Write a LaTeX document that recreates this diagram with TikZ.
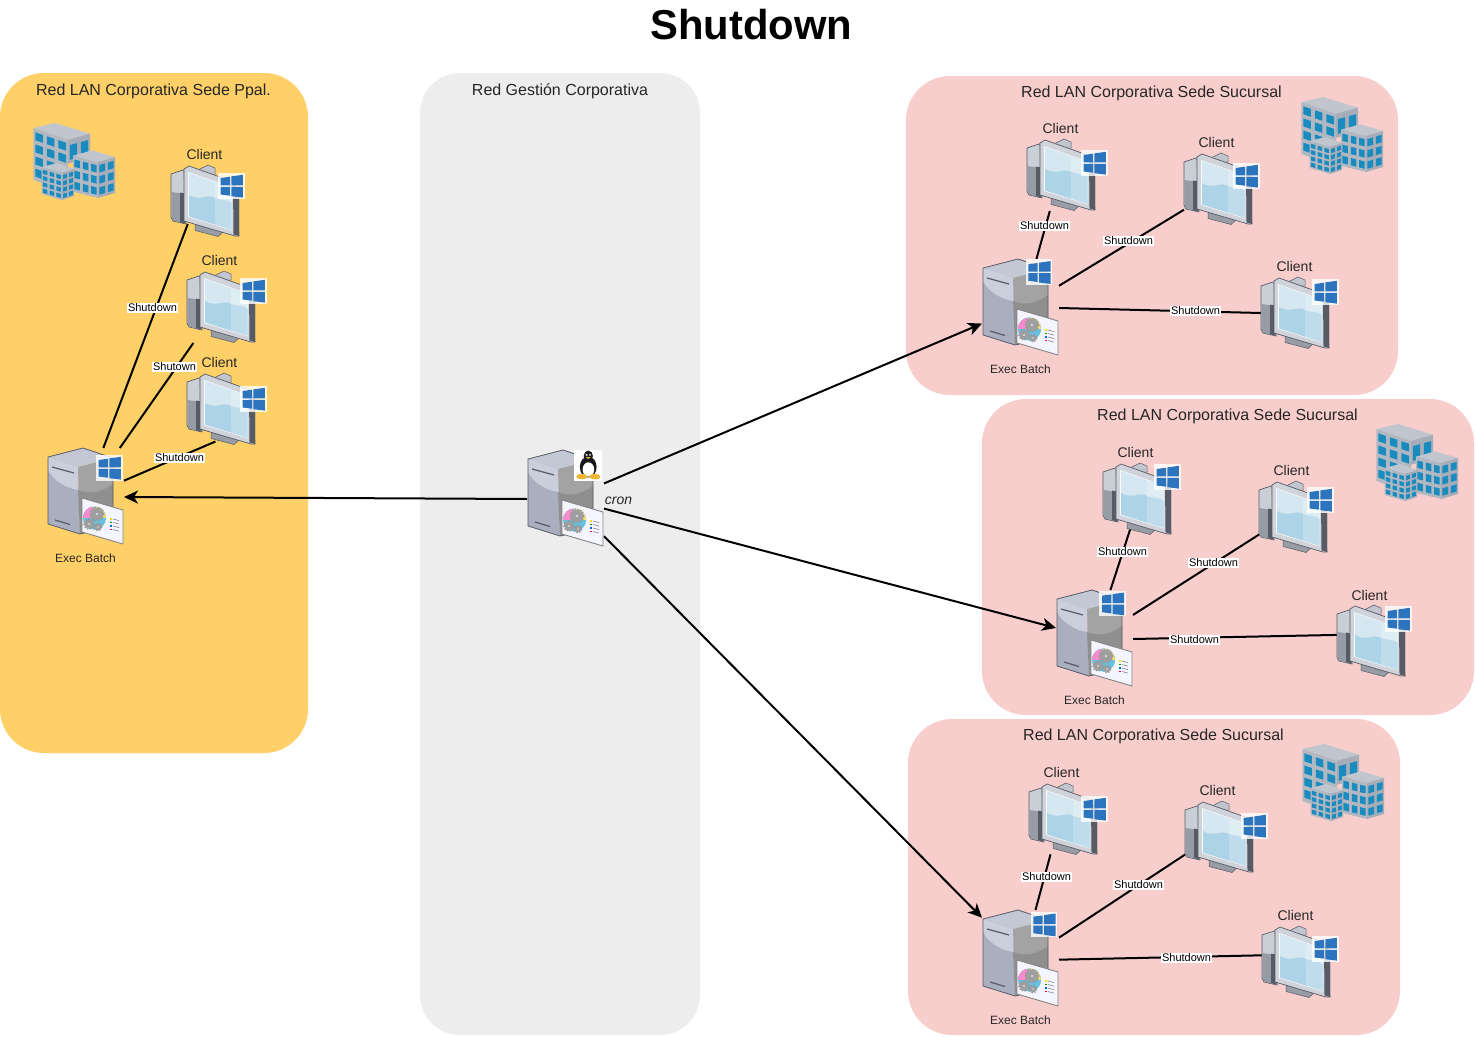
\documentclass[tikz,border=0pt]{standalone}
\usepackage{fontspec}
\setmainfont{Liberation Sans}
\usetikzlibrary{arrows.meta}
\definecolor{orangeg}{HTML}{FFD068}
\definecolor{greyg}{HTML}{EDEDED}
\definecolor{pinkg}{HTML}{F8CECC}
\definecolor{winblue}{HTML}{2D74BE}
\definecolor{wallA}{HTML}{B2B8C2}
\definecolor{wallB}{HTML}{A6ADB8}
\definecolor{roofc}{HTML}{C1C5CE}
\definecolor{bwin}{HTML}{1A8BBE}
\definecolor{edgec}{HTML}{565B66}
\definecolor{scrA}{HTML}{CFE6F0}
\definecolor{scrB}{HTML}{A5CFE6}
\definecolor{srvfront}{HTML}{A9AFBF}
\definecolor{srvlobe}{HTML}{CBCFDB}
\definecolor{srvtop}{HTML}{C4C8D5}
\definecolor{tuxyellow}{HTML}{F2B632}
\tikzset{
  grouptitle/.style={font=\fontsize{16}{19}\selectfont,text=black!85,inner sep=0,text height=.75em,text depth=.2em,yshift=-3.5pt},
  clientlabel/.style={font=\fontsize{14}{17}\selectfont,text=black!85,inner sep=0,text height=.75em,text depth=.2em,yshift=-3pt},
  execlabel/.style={font=\fontsize{12}{14}\selectfont,text=black!85,inner sep=0,text height=.75em,text depth=.2em,yshift=-2pt},
  linklabel/.style={font=\fontsize{11}{13}\selectfont,fill=white,inner sep=1pt,text height=.72em,text depth=.1em,yshift=-1pt},
  link/.style={draw=black,line width=2pt},
  flow/.style={link,-{Stealth[length=14pt,width=13pt,inset=4pt]}},
  srv/.style={inner sep=0,outer sep=0,minimum width=77pt,minimum height=98pt},
  cli/.style={inner sep=0,outer sep=0,minimum width=69pt,minimum height=#1}
}
% windows logo
\newcommand\winlogo[2]{\begin{scope}[shift={(#1,#2)}]
 \fill[white,opacity=.8] (0,0) rectangle (26.5,25.5);
 \fill[winblue] (2.7,5)--(12,3.7)--(12,12.4)--(2.7,12.4)--cycle
   (13.3,3.4)--(24.8,1.8)--(24.8,12.4)--(13.3,12.4)--cycle
   (2.7,13.8)--(12,13.8)--(12,22.7)--(2.7,21.5)--cycle
   (13.3,13.8)--(24.8,13.8)--(24.8,24.6)--(13.3,23.2)--cycle;
\end{scope}}
% client computer
\newcommand\clienticon[4]{\begin{scope}[shift={(#1,#2)}]
 % neck behind monitor
 \filldraw[fill=roofc,draw=edgec,line width=.5pt] (27,5)--(37,0)--(44,3)--(44,9)--(27,9)--cycle;
 % tower
 \filldraw[fill=roofc!85!white,draw=edgec,line width=.7pt] (0,9)--(13,4.7)--(15,59)--(2,56)--(0,52)--cycle;
 \fill[wallB!90!black] (.4,27)--(14,29)--(14.6,58.5)--(2.2,55.6)--(.4,51.8)--cycle;
 \fill[edgec] (9,27.5)--(14,28.5)--(14.6,58.5)--(9,57.2)--cycle;
 % stand
 \filldraw[fill=wallA!85!black,draw=edgec,line width=.5pt] (24,59)--(53,66)--(47,71.5)--(24,65.5)--cycle;
 % monitor side and frame
 \fill[edgec] (60,20)--(68,24)--(68,71)--(63,70.5)--cycle;
 \filldraw[fill=roofc!75!white,draw=edgec,line width=.7pt,line join=round] (13,4)--(18,1)--(63,17)--(68,71)--(64,71)--(13,56)--cycle;
 \fill[edgec] (62,19)--(68,24)--(68,71)--(62.5,69.5)--cycle;
 % screen
 \fill[white,opacity=.9] (17,7)--(61,22.5)--(61,65.5)--(17,52)--cycle;
 \fill[scrA,opacity=.85] (18,8)--(60.5,23)--(60.5,64.8)--(18,51.5)--cycle;
 \fill[scrB,opacity=.82] (18,30) .. controls (30,37) and (36,28) .. (44,33) .. controls (50,36) and (55,33) .. (60.5,38)--(60.5,64.8)--(18,51.5)--cycle;
 \fill[white,opacity=.22] (44,18)--(60.5,23)--(60.5,64.8)--(44,60)--cycle;
 \winlogo{#3}{#4}
\end{scope}}
% server tower with card
\newcommand\servertower{
 \fill[srvtop] (1,9)--(36,0)--(66,10)--(31,19)--cycle;
 \fill[srvfront] (1,9)--(31,19)--(33,86)--(1,76)--cycle;
 \fill[srvlobe] (1,9)--(31,19)--(31,42) .. controls (18,40) and (6,32) .. (1,22)--cycle;
 \fill[black!36] (31,19)--(66,10)--(66,78)--(33,86)--cycle;
 \fill[black!44] (31,42) .. controls (45,48) and (58,42) .. (66,36)--(66,78)--(33,86)--cycle;
 \draw[edgec,line width=.8pt,line join=round] (1,9)--(36,0)--(66,10)--(66,78)--(33,86)--(1,76)--cycle;
 \draw[edgec,line width=1.2pt] (5,19)--(27,25) (8,72)--(23,76.5);
 % card
 \filldraw[fill=white!96!blue,draw=black!48,line width=.9pt,line join=round] (35,50)--(76,62)--(76,96)--(35,84)--cycle;
 \begin{scope}
  \clip (47.5,70) circle (11.5);
  \fill[blue!25!cyan!80!black] (36,58) rectangle (60,83);
  \fill[magenta!75!white] (36,58) rectangle (46,70);
  \fill[yellow!60!orange] (47,58) rectangle (60,70);
 \end{scope}
 \fill[white,opacity=.4] (47.5,70) circle (11.5);
 \foreach \gx/\gy/\gr in {50/66/6.5,42/76/5,51/79/3.6}{
   \draw[black!42,line width=1.6pt,dash pattern=on 1.5pt off 1.3pt] (\gx,\gy) circle (\gr);
   \fill[black!38] (\gx,\gy) circle (\gr-.4);
   \fill[white!85!black] (\gx,\gy) circle (\gr*.22);
 }
 \foreach \ly/\lc in {70/yellow!80!orange,73.5/green!60!black,77/blue!60!cyan,80.5/magenta}{
   \fill[\lc] (63,\ly) rectangle (65,\ly+1.8);
   \draw[black!55,line width=.5pt] (66,\ly+1)--(72,\ly+2.6);
 }
}
\newcommand\winserver[4]{\begin{scope}[shift={(#1,#2)}]\servertower\winlogo{#3}{#4}\end{scope}}
\newcommand\tuxserver[2]{\begin{scope}[shift={(#1,#2)}]\servertower
 \begin{scope}[shift={(47,0)}]
  \fill[white] (0,0) rectangle (28,31);
  \fill[black!90] (14.3,6) ellipse (4.6 and 5.4);
  \fill[black!90] (14.2,17) ellipse (8.4 and 10.5);
  \fill[white] (14.4,19.5) ellipse (5.8 and 7.2);
  \fill[white] (12.6,5) circle (1.2) (16,5) circle (1.2);
  \fill[black] (12.8,5.2) circle (.5) (15.8,5.2) circle (.5);
  \fill[tuxyellow] (11.8,7)--(16.8,7)--(14.3,9)--cycle;
  \fill[tuxyellow] (7.8,26.6) ellipse (5.6 and 2.8);
  \fill[tuxyellow] (20.8,26.6) ellipse (5.6 and 2.8);
 \end{scope}
\end{scope}}
% building face
\newcommand\bface[8]{% x0 y0 x1 y1 h nx ny wall
 \fill[#8] (#1,#2)--(#3,#4)--(#3,#4+#5)--(#1,#2+#5)--cycle;
 \foreach \ii in {1,...,#6}\foreach \jj in {1,...,#7}{
  \pgfmathsetmacro\ua{(\ii-1+.17)/#6}\pgfmathsetmacro\ub{(\ii-.17)/#6}
  \pgfmathsetmacro\va{(\jj-1+.22)/#7*#5*.93+1}\pgfmathsetmacro\vb{(\jj-.12)/#7*#5*.93+1}
  \fill[bwin] ({#1+(#3-#1)*\ua},{#2+(#4-#2)*\ua+\va})--({#1+(#3-#1)*\ub},{#2+(#4-#2)*\ub+\va})--({#1+(#3-#1)*\ub},{#2+(#4-#2)*\ub+\vb})--({#1+(#3-#1)*\ua},{#2+(#4-#2)*\ua+\vb})--cycle;
 }}
\newcommand\buildings[2]{\begin{scope}[shift={(#1,#2)}]
 \fill[roofc] (1.3,5)--(23,0)--(58,10.7)--(36,16.7)--cycle;
 \bface{1.3}{5}{36}{16.7}{52}{3}{4}{wallA}
 \bface{36}{16.7}{58}{10.7}{24}{2}{1}{wallB}
 \fill[roofc] (41,32.7)--(60,27.3)--(83,34)--(66,39)--cycle;
 \bface{41}{32.7}{66}{39}{36}{3}{3}{wallA}
 \bface{66}{39}{83}{34}{36}{2}{3}{wallB}
 \fill[roofc] (9.7,44)--(25,40)--(42,46)--(30,50)--cycle;
 \bface{9.7}{44}{30}{50}{27}{3}{4}{wallA}
 \bface{30}{50}{42}{46}{27}{2}{4}{wallB}
\end{scope}}
\begin{document}
\begin{tikzpicture}[x=1pt,y=-1pt]
\useasboundingbox (0,0) rectangle (1475,1036);
\fill[white] (0,0) rectangle (1475,1036);
% regions
\fill[orangeg,rounded corners=44pt] (0,73) rectangle (308,753);
\fill[greyg,rounded corners=40pt] (420,73) rectangle (700,1035);
\fill[pinkg,rounded corners=44pt] (906,76) rectangle (1398,395);
\fill[pinkg,rounded corners=44pt] (982,399) rectangle (1474,715);
\fill[pinkg,rounded corners=44pt] (908,719) rectangle (1400,1035);
% titles
\node[inner sep=0,font=\fontsize{41.8}{48}\selectfont\bfseries] (title) at (751.5,25) {Shutdown};
\node[grouptitle] (t1) at (153.5,89) {Red LAN Corporativa Sede Ppal.};
\node[grouptitle] (t2) at (560,89) {Red Gestión Corporativa};
\node[grouptitle] (t3) at (1151.5,91) {Red LAN Corporativa Sede Sucursal};
\node[grouptitle] (t4) at (1227.5,414) {Red LAN Corporativa Sede Sucursal};
\node[grouptitle] (t5) at (1153.5,734) {Red LAN Corporativa Sede Sucursal};
% servers (connection boxes)
\node[srv] (lin) at (565.5,499) {};
\node[srv] (sp) at (85.5,497) {};
\node[srv] (s1) at (1020.5,308) {};
\node[srv] (s2) at (1094.5,639) {};
\node[srv] (s3) at (1020.5,959) {};
% clients (connection boxes)
\node[cli=59pt] (p1) at (205.5,194.5) {};
\node[cli=72pt] (p2) at (221.5,307) {};
\node[cli=68.5pt] (p3) at (221.5,407.25) {};
\node[cli=72pt] (a1) at (1061.5,175) {};
\node[cli=72pt] (a2) at (1218.5,189) {};
\node[cli=72pt] (a3) at (1295.5,313) {};
\node[cli=65pt] (b1) at (1137.5,495.5) {};
\node[cli=72pt] (b2) at (1293.5,517) {};
\node[cli=72pt] (b3) at (1371.5,641) {};
\node[cli=71.3pt] (c1) at (1063.5,818.65) {};
\node[cli=72pt] (c2) at (1219.5,837) {};
\node[cli=72pt] (c3) at (1296.5,962) {};
% connectors
\draw[flow] (lin.west) -- (sp.east);
\draw[flow] (lin.22.6) -- (s1.202.6);
\draw[flow] (lin.-14.6) -- (s2.164);
\draw[flow] (lin.-44.6) -- (s3.133.2);
\draw[link] (sp.70.3) -- (p1.239.3);
\draw[link] (sp.55.6) -- (p2.232.6);
\draw[link] (sp.23.8) -- (p3.260.9);
\draw[link] (s1.72.4) -- (a1.252.3);
\draw[link] (s1.30.9) -- (a2.211.3);
\draw[link] (s1.east) -- (a3.west);
\draw[link] (s2.72.4) -- (b1.258.7);
\draw[link] (s2.32.5) -- (b2.207.6);
\draw[link] (s2.east) -- (b3.170.1);
\draw[link] (s3.73.5) -- (c1.250.2);
\draw[link] (s3.29.7) -- (c2.207.6);
\draw[link] (s3.-1.5) -- (c3.169.7);
% connector labels
\node[linklabel] (lp1) at (152.5,307) {Shutdown};
\node[linklabel] (lp2) at (174.5,366) {Shutown};
\node[linklabel] (lp3) at (179.5,457) {Shutdown};
\node[linklabel] (la1) at (1044.5,225) {Shutdown};
\node[linklabel] (la2) at (1128.5,240) {Shutdown};
\node[linklabel] (la3) at (1195.5,310) {Shutdown};
\node[linklabel] (lb1) at (1122.5,551) {Shutdown};
\node[linklabel] (lb2) at (1213.5,562) {Shutdown};
\node[linklabel] (lb3) at (1194.5,639) {Shutdown};
\node[linklabel] (lc1) at (1046.5,876) {Shutdown};
\node[linklabel] (lc2) at (1138.5,884) {Shutdown};
\node[linklabel] (lc3) at (1186.5,957) {Shutdown};
% client labels
\foreach \nm/\lx/\ly in {n1/204.5/154,n2/219.5/260,n3/219.5/362,n4/1060.5/128,n5/1216.5/142,n6/1294.5/266,n7/1135.5/452,n8/1291.5/470,n9/1369.5/595,n10/1061.5/772,n11/1217.5/790,n12/1295.5/915}
  \node[clientlabel] (\nm) at (\lx,\ly) {Client};
\node[execlabel] (e1) at (85.5,558) {Exec Batch};
\node[execlabel] (e2) at (1020.5,369) {Exec Batch};
\node[execlabel] (e3) at (1094.5,700) {Exec Batch};
\node[execlabel] (e4) at (1020.5,1020) {Exec Batch};
\node[clientlabel,font=\fontsize{14}{17}\selectfont\itshape] (cron) at (618.5,499) {cron};
% icons
\buildings{32}{123}
\buildings{1300}{97}
\buildings{1375}{424}
\buildings{1301}{744}
\tuxserver{527}{450}
\winserver{47}{448}{49}{7}
\winserver{982}{259}{43.7}{0.3}
\winserver{1056}{590}{43.3}{0.7}
\winserver{982}{910}{48.7}{1.7}
\clienticon{171}{165}{47}{8}
\clienticon{187}{271}{53}{7}
\clienticon{187}{373}{53}{13}
\clienticon{1027}{139}{54}{11}
\clienticon{1184}{153}{49}{10}
\clienticon{1261}{277}{51}{2}
\clienticon{1103}{463}{51}{1}
\clienticon{1259}{481}{48}{6}
\clienticon{1337}{605}{48}{1}
\clienticon{1029}{783}{52}{13}
\clienticon{1185}{801}{56}{12}
\clienticon{1262}{926}{50}{10}
\end{tikzpicture}
\end{document}
